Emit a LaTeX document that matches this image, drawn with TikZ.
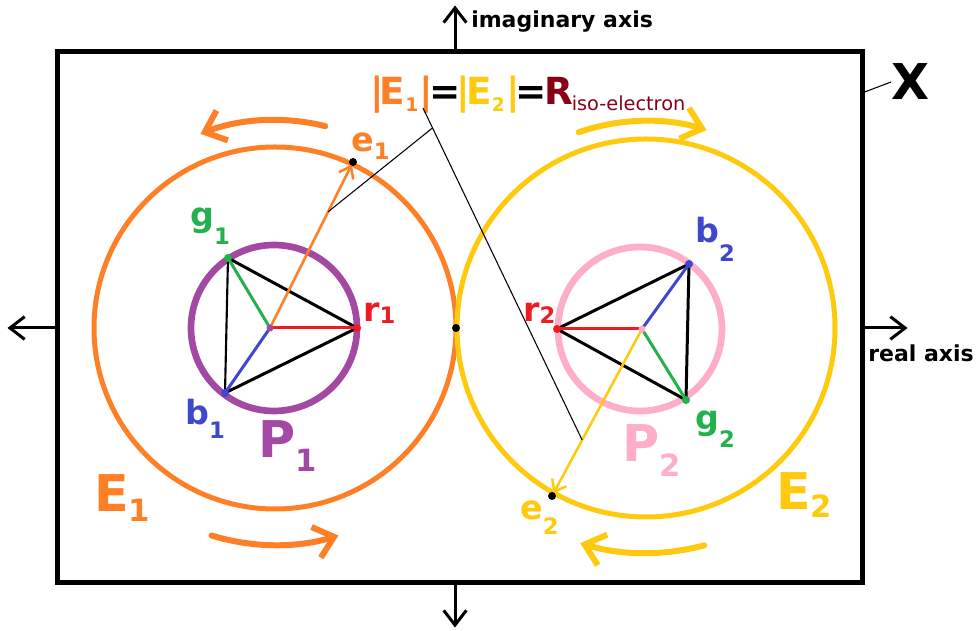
\documentclass[tikz,border=0pt]{standalone}
\usepackage{fontspec}
\setmainfont{DejaVu Sans}
\usetikzlibrary{arrows.meta,calc}
\definecolor{eorng}{HTML}{FF7F27}
\definecolor{egold}{HTML}{FFC90E}
\definecolor{ppurp}{HTML}{A349A4}
\definecolor{ppink}{HTML}{FFAEC9}
\definecolor{vred}{HTML}{ED1C24}
\definecolor{vgreen}{HTML}{22B14C}
\definecolor{vblue}{HTML}{3F48CC}
\definecolor{rdark}{HTML}{880015}
\newcommand{\lsub}[2][3pt]{\raisebox{-#1}{\fontsize{17}{17}\selectfont #2}}
\newcommand{\bsub}[2][7pt]{\raisebox{-#1}{\fontsize{23}{23}\selectfont #2}}
\newcommand{\tsub}[1]{\raisebox{-5pt}{\fontsize{14}{14}\selectfont #1}}
\tikzset{
  frm/.style={draw, line width=3.75pt, inner sep=0pt, minimum width=603.75pt, minimum height=398.25pt},
  ax/.style={line width=2.25pt, -{Straight Barb[length=11pt,width=17pt]}},
  orb/.style={line width=3.75pt},
  ring/.style={line width=5pt},
  tri/.style={line width=2.25pt},
  spoke/.style={line width=2.25pt},
  vec/.style={line width=1.9pt, -{Straight Barb[length=8pt,width=12pt]}, shorten >=2pt},
  ptr/.style={line width=0.8pt},
  spin/.style={line width=4.5pt, line cap=round, -{Straight Barb[length=14pt,width=24pt]}},
  axlbl/.style={anchor=base west, inner sep=0pt, font=\fontsize{16.5}{18}\selectfont\bfseries},
  lbl/.style={anchor=base west, inner sep=0pt, font=\fontsize{25}{28}\selectfont\bfseries},
  blbl/.style={anchor=base west, inner sep=0pt, font=\fontsize{38}{40}\selectfont\bfseries},
}

\begin{document}
\begin{tikzpicture}[x=0.75pt,y=0.75pt]
  \useasboundingbox (0,0) rectangle (976,631);
  % complex plane and axes
  \node[frm] (plane) at (459.5,313.5) {};
  \coordinate (org) at (455,303);
  \draw[ax] (org -| plane.west) -- ++(-47,0);
  \draw[ax] (org -| plane.east) -- ++(43,0);
  \draw[ax] (org |- plane.north) -- ++(0,44);
  \draw[ax] (org |- plane.south) -- ++(0,-42);
  \node[axlbl] (imlbl) at (471,603) {imaginary axis};
  \node[axlbl] (relbl) at (868,269) {real axis};
  \node[anchor=base west, inner sep=0pt, font=\fontsize{37}{40}\selectfont\bfseries] (xlbl) at (891,531) {X};
  \coordinate (xpin) at (862,538);
  \draw[ptr] (xpin) -- (xlbl.west);
  % electron orbits
  \coordinate (o1) at (275,303);
  \coordinate (o2) at (646,303);
  \draw[orb, eorng] (o1) circle (181);
  \draw[orb, egold] (o2) circle (189);
  % proton rings
  \coordinate (pc1) at (274,303);
  \coordinate (pc2) at (640,302);
  \draw[ring, ppurp] (pc1) circle (83);
  \draw[ring, ppink] (pc2) circle (82);
  % quarks
  \coordinate (c1) at (270,303);
  \coordinate (r1) at (357,303);
  \coordinate (g1) at (228,373);
  \coordinate (b1) at (225,238);
  \coordinate (c2) at (642,302);
  \coordinate (r2) at (557,302);
  \coordinate (b2) at (689,367);
  \coordinate (g2) at (686,231);
  \draw[tri] (r1) -- (g1);
  \draw[tri, line width=1.6pt] (g1) -- (b1);
  \draw[tri] (b1) -- (r1);
  \draw[tri] (r2) -- (b2);
  \draw[tri] (b2) -- (g2);
  \draw[tri] (g2) -- (r2);
  \foreach \c in {1,2} {
    \draw[spoke, vred] (c\c) -- (r\c);
    \draw[spoke, vgreen] (c\c) -- (g\c);
    \draw[spoke, vblue] (c\c) -- (b\c);
  }
  % electrons
  \coordinate (e1) at (353,469);
  \coordinate (e2) at (552,135);
  \coordinate (touch) at (456,303);
  \draw[vec, eorng] (c1) -- (e1);
  \draw[vec, egold] (c2) -- (e2);
  \foreach \c in {1,2} {
    \fill[vred] (r\c) circle (4);
    \fill[vgreen] (g\c) circle (4);
    \fill[vblue] (b\c) circle (4);
  }
  \fill[ppurp] (c1) circle (3.5);
  \fill[ppink] (c2) circle (3.5);
  \fill (e1) circle (4);
  \fill (e2) circle (4);
  \fill (touch) circle (4);
  % spin arrows
  \draw[spin, eorng] ($(o1)+(76:208)$) arc[start angle=76, end angle=111, radius=208];
  \draw[spin, eorng] ($(o1)+(253:217)$) arc[start angle=253, end angle=287, radius=217];
  \draw[spin, egold] ($(o2)+(109:207)$) arc[start angle=109, end angle=73, radius=207];
  \draw[spin, egold] ($(o2)+(285:225)$) arc[start angle=285, end angle=253, radius=225];
  % radius note
  \node[anchor=base west, inner sep=0pt, font=\fontsize{28}{30}\selectfont\bfseries] (riso) at (370,526)
    {\textcolor{eorng}{|\kern-3pt E\tsub{1}\kern1pt|}\kern-3pt=\kern-3pt\textcolor{egold}{|\kern-3pt E\tsub{2}\kern1pt|}\kern-3pt=\kern-2pt\textcolor{rdark}{R\kern-1pt\raisebox{-4.5pt}{\fontsize{14.5}{15}\selectfont\mdseries iso-electron}}};
  \coordinate (p1) at ($(c1)!0.7!(e1)$);
  \coordinate (p2) at ($(c2)!0.665!(e2)$);
  \coordinate (ptip) at (423,523);
  \coordinate (fork) at ($(ptip)!0.06!(p2)$);
  \draw[ptr] (ptip) -- (p2);
  \draw[ptr] (fork) -- (p1);
  % labels
  \node[lbl, eorng] (le1) at (351,479) {e\lsub[6pt]{1}};
  \node[lbl, egold] (le2) at (520,111) {e\lsub[11pt]{2}};
  \node[lbl, vred] (lr1) at (363,309) {r\lsub[1pt]{1}};
  \node[lbl, vred] (lr2) at (523,309) {r\lsub[1pt]{2}};
  \node[lbl, vgreen] (lg1) at (190,404) {g\lsub[13pt]{1}};
  \node[lbl, vgreen] (lg2) at (695,201) {g\lsub[13pt]{2}};
  \node[lbl, vblue] (lb1) at (185,206) {b\lsub[10pt]{1}};
  \node[lbl, vblue] (lb2) at (695,388) {b\lsub[14pt]{2}};
  \node[blbl, eorng] (lE1) at (94,119) {E\bsub[7.5pt]{1}};
  \node[blbl, egold] (lE2) at (776,121) {E\bsub[6pt]{2}};
  \node[blbl, ppurp] (lP1) at (258,173) {P\bsub[10pt]{1}};
  \node[blbl, ppink] (lP2) at (622,169) {P\bsub[11pt]{2}};
\end{tikzpicture}
\end{document}
